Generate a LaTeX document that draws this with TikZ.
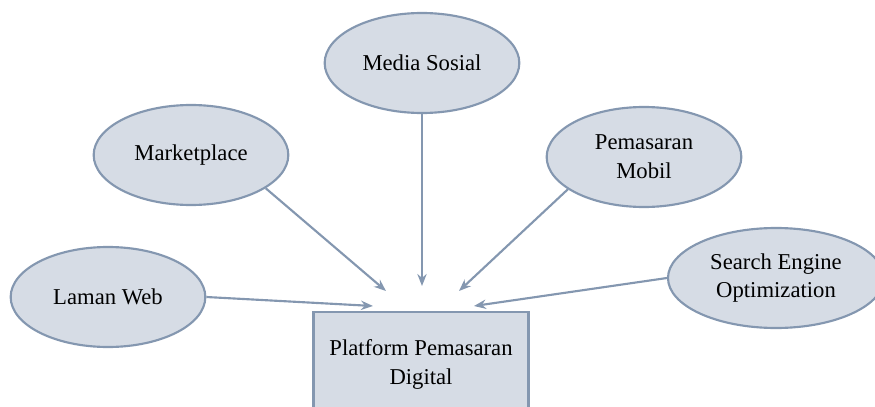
\documentclass[tikz,border=0pt]{standalone}
\usepackage{fontspec}
\setmainfont{Liberation Serif}
\usetikzlibrary{shapes.geometric,arrows.meta}
\definecolor{isian}{HTML}{D6DCE5}
\definecolor{garis}{HTML}{8497B0}
\tikzset{
  elip/.style={ellipse,draw=garis,fill=isian,line width=1.6pt,inner sep=0pt,
    minimum width=146pt,minimum height=75pt,align=center},
  kotak/.style={rectangle,draw=garis,fill=isian,line width=1.8pt,
    minimum width=161pt,minimum height=78pt,align=center},
  panah/.style={->,>={Stealth[length=9pt,width=7pt]},draw=garis,line width=1.6pt}
}

\begin{document}
\begin{tikzpicture}[x=0.75pt,y=-0.75pt,font=\fontsize{17}{21.5}\selectfont]
    \useasboundingbox (0,0) rectangle (875,407);

    % Center box
    \node[kotak,anchor=north] (pusat) at (421,311) {Platform Pemasaran\\Digital};

    % Ellipses around
    \node[elip] (sosial) at (422,63) {Media Sosial};
    \node[elip] (market) at (191,155) {Marketplace};
    \node[elip] (mobil) at (644,157) {Pemasaran\\Mobil};
    \node[elip] (web) at (108,297) {Laman Web};
    \node[elip,minimum width=162pt] (seo) at (776,278) {Search Engine\\Optimization};

    % Arrow ends above the box
    \coordinate (e1) at (422,286);
    \coordinate (e2) at (386,291);
    \coordinate (e3) at (459,291);
    \coordinate (e4) at (373,306);
    \coordinate (e5) at (474,306);

    % Arrows
    \draw[panah] (sosial) -- (e1);
    \draw[panah] (market.-24) -- (e2);
    \draw[panah] (mobil.-157) -- (e3);
    \draw[panah] (web.east) -- (e4);
    \draw[panah] (seo.west) -- (e5);

\end{tikzpicture}
\end{document}
